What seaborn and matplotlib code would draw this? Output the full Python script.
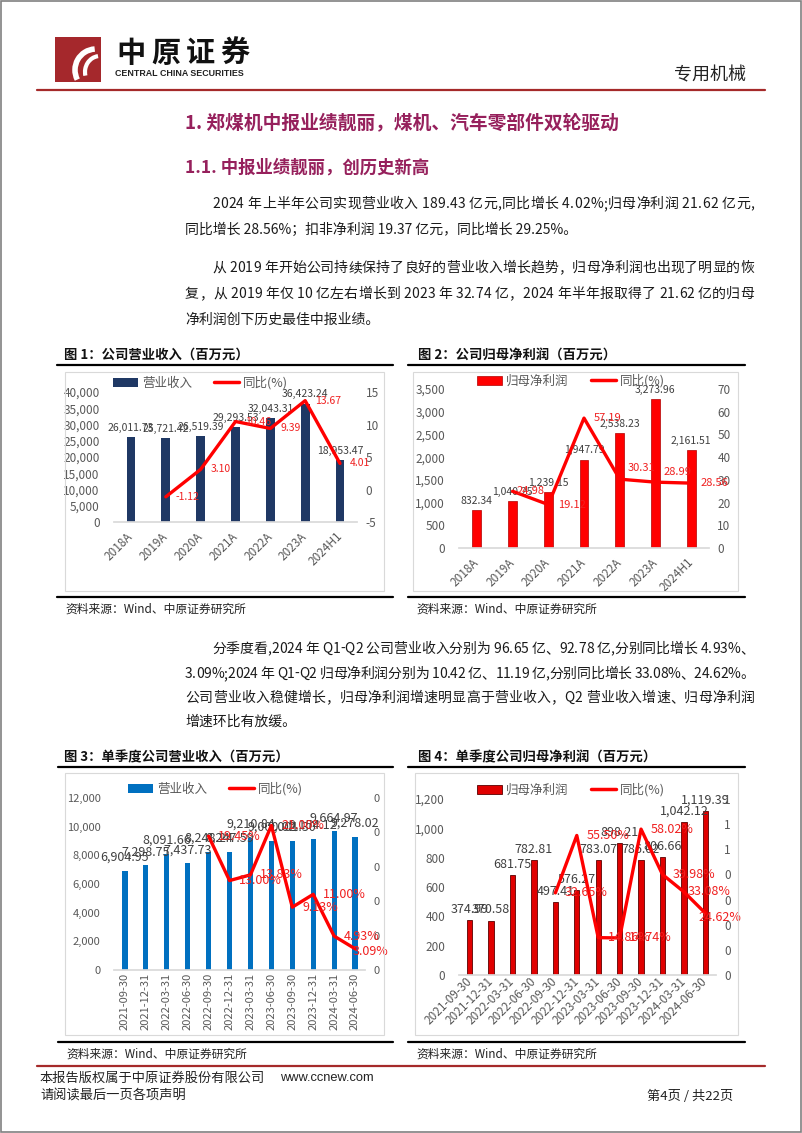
import numpy as np
import pandas as pd
import matplotlib
matplotlib.use("Agg")
import matplotlib.pyplot as plt
import matplotlib.ticker as mticker
from matplotlib.lines import Line2D
from matplotlib.patches import Rectangle, Patch, Arc
from matplotlib.font_manager import FontProperties
import seaborn as sns

W, H = 802, 1133

sns.set_theme(style="white")
plt.rcParams["font.family"] = ["Noto Sans CJK SC", "DejaVu Sans"]
plt.rcParams["axes.unicode_minus"] = False

# -------------------------
# Data
# -------------------------
years = ["2018A", "2019A", "2020A", "2021A", "2022A", "2023A", "2024H1"]
revenue = [26011.73, 25721.42, 26519.39, 29293.53, 32043.31, 36423.24, 18953.47]
revenue_yoy = [np.nan, -1.12, 3.10, 10.46, 9.39, 13.67, 4.01]
profit = [832.34, 1040.25, 1239.15, 1947.79, 2538.23, 3273.96, 2161.51]
profit_yoy = [np.nan, 24.98, 19.12, 57.19, 30.31, 28.99, 28.56]

quarters = ["2021-09-30", "2021-12-31", "2022-03-31", "2022-06-30",
            "2022-09-30", "2022-12-31", "2023-03-31", "2023-06-30",
            "2023-09-30", "2023-12-31", "2024-03-31", "2024-06-30"]
q_revenue = [6904.95, 7298.75, 8091.66, 7437.73, 8248.24, 8247.59,
             9210.84, 9000.02, 9001.30, 9154.12, 9664.97, 9278.02]
q_revenue_yoy = [np.nan, np.nan, np.nan, np.nan, 19.45, 13.00,
                 13.83, 21.00, 9.13, 11.00, 4.93, 3.09]
q_profit = [374.99, 370.58, 681.75, 782.81, 497.41, 576.27,
            783.07, 898.21, 786.02, 806.66, 1042.12, 1119.39]
q_profit_yoy = [np.nan, np.nan, np.nan, np.nan, 32.65, 55.50,
                14.86, 14.74, 58.02, 39.98, 33.08, 24.62]

RED = "#FF0000"
LABEL_RED = "#F02020"
GREY = "#595959"
HEAD = "#96205C"
INK = "#1A1A1A"

fig = plt.figure(figsize=(W / 100, H / 100), dpi=100)
fig.patch.set_facecolor("white")
renderer = fig.canvas.get_renderer()


def fx(x):
    return x / W


def fy(y):
    return 1 - y / H


def hline(x0, x1, y, color, lw):
    fig.add_artist(Line2D([fx(x0), fx(x1)], [fy(y), fy(y)],
                          transform=fig.transFigure, color=color, lw=lw))


def text(x, y, s, **kw):
    kw.setdefault("va", "center")
    fig.text(fx(x), fy(y), s, **kw)


def box(x0, y0, x1, y1, **kw):
    fig.add_artist(Rectangle((fx(x0), fy(y1)), fx(x1) - fx(x0), fy(y0) - fy(y1),
                             transform=fig.transFigure, **kw))


def body_line(x0, y, s, x1=None, size=10):
    # plain line, or spread over x0..x1 like justified Chinese text
    if x1 is None:
        text(x0, y, s, fontsize=size, color=INK)
        return
    prop = FontProperties(family=["Noto Sans CJK SC", "DejaVu Sans"], size=size)

    def wid(t):
        return renderer.get_text_width_height_descent(t, prop, ismath=False)[0]

    extra = (x1 - x0) - wid(s)
    n = len(s)
    for k, ch in enumerate(s):
        if ch == " ":
            continue
        left = wid(s[:k + 1]) - wid(ch)
        text(x0 + left + extra * k / (n - 1), y, ch, fontsize=size, color=INK)


def combo(rect, cats, bars, yoy, name, color, edge, lw_edge,
          left_max, left_step, right_min, right_max, right_step, right_fmt,
          yoy_div, yoy_fmt, rot, xpad, bar_pad, bar_size, yoy_size, tick_size,
          legend_xy, special=None):
    x0, y0, x1, y1 = rect
    ax = fig.add_axes([fx(x0), fy(y1), fx(x1) - fx(x0), fy(y0) - fy(y1)])
    df = pd.DataFrame({"cat": cats, "value": bars})
    sns.barplot(data=df, x="cat", y="value", color=color, width=0.25,
                saturation=1, edgecolor=edge, linewidth=lw_edge,
                errorbar=None, ax=ax)
    n = len(cats)
    ax.set_xlim(-0.5, n - 0.5)
    ax.set_ylim(0, left_max)
    ax.set_yticks(np.arange(0, left_max + 1, left_step))
    ax.yaxis.set_major_formatter(mticker.StrMethodFormatter("{x:,.0f}"))
    ax.set_xlabel("")
    ax.set_ylabel("")
    for s in ["top", "left", "right"]:
        ax.spines[s].set_visible(False)
    ax.spines["bottom"].set_color("#D9D9D9")
    ax.tick_params(axis="y", length=0, labelsize=tick_size, colors=GREY, pad=10)
    ax.tick_params(axis="x", length=0, labelsize=tick_size, colors=GREY, pad=xpad)
    ax.set_xticks(range(n))
    if rot == 90:
        ax.set_xticklabels(cats, rotation=90, ha="center", va="top")
    else:
        ax.set_xticklabels(cats, rotation=45, ha="right", va="center",
                           rotation_mode="anchor")
    ax.bar_label(ax.containers[0], labels=[f"{v:,.2f}" for v in bars],
                 padding=bar_pad, fontsize=bar_size, color="#404040")
    ax.set_facecolor("none")

    ax2 = ax.twinx()
    line_y = np.array(yoy) / yoy_div
    sns.lineplot(x=np.arange(n), y=line_y, color=RED, lw=2.4, ax=ax2)
    ax2.set_xlim(-0.5, n - 0.5)
    ax2.set_ylim(right_min, right_max)
    ax2.set_yticks(np.arange(right_min, right_max + right_step / 2, right_step))
    ax2.yaxis.set_major_formatter(mticker.FuncFormatter(right_fmt))
    ax2.tick_params(axis="y", length=0, labelsize=tick_size, colors=GREY, pad=6)
    ax2.set_ylabel("")
    for s in ax2.spines.values():
        s.set_visible(False)
    special = special or {}
    for i, v in enumerate(yoy):
        if np.isnan(v):
            continue
        dx, dy = special.get(i, (7, 0))
        ax2.annotate(yoy_fmt.format(v), (i, v / yoy_div), xytext=(dx, dy),
                     textcoords="offset points", ha="left", va="center",
                     fontsize=yoy_size, color=LABEL_RED)

    handles = [Patch(facecolor=color, edgecolor=edge, linewidth=lw_edge),
               Line2D([], [], color=RED, lw=2.5)]
    fig.legend(handles, [name, "同比(%)"], loc="center left",
               bbox_to_anchor=(fx(legend_xy[0]), fy(legend_xy[1])),
               bbox_transform=fig.transFigure, ncol=2, frameon=False,
               fontsize=9, handlelength=2.0, handleheight=0.7,
               handletextpad=0.3, columnspacing=1.8, borderpad=0,
               borderaxespad=0, labelcolor=GREY)
    return ax, ax2


def int_fmt(v, pos):
    return f"{v:.0f}"


def excel_round(v, pos):
    return str(int(np.floor(v + 0.5 + 1e-9)))


# -------------------------
# Page frame / header
# -------------------------
box(0.5, 0.5, W - 1, H - 1, fill=False, edgecolor="#808080", lw=1.2)

box(55, 37, 101, 82, facecolor="#A5282C", edgecolor="none")
fig.add_artist(Arc((fx(96), fy(70)), fx(70) - fx(28), (fy(28) - fy(70)),
                   theta1=95, theta2=200, transform=fig.transFigure,
                   color="white", lw=4))
fig.add_artist(Arc((fx(100), fy(72)), fx(40) - fx(10), (fy(20) - fy(52)),
                   theta1=100, theta2=190, transform=fig.transFigure,
                   color="white", lw=3))
for i, ch in enumerate("中原证券"):
    text(131 + i * 34.5, 53, ch, fontsize=21, weight="heavy", ha="center",
         color="#111111")
text(115, 74, "CENTRAL CHINA SECURITIES", fontsize=6.4, weight="bold",
     family="Liberation Sans", color="#222222")
text(674, 75, "专用机械", fontsize=13, color="#222222")
hline(37, 765, 90, "#A52A2A", 1.6)

text(185, 124, "1. 郑煤机中报业绩靓丽，煤机、汽车零部件双轮驱动",
     fontsize=13.5, weight="bold", color=HEAD)
text(185, 168, "1.1. 中报业绩靓丽，创历史新高",
     fontsize=12.5, weight="bold", color=HEAD)

R = 754
body_line(212, 204, "2024 年上半年公司实现营业收入 189.43 亿元,同比增长 4.02%;归母净利润 21.62 亿元,", R)
body_line(185, 230, "同比增长 28.56%；扣非净利润 19.37 亿元，同比增长 29.25%。")
body_line(212, 268, "从 2019 年开始公司持续保持了良好的营业收入增长趋势，归母净利润也出现了明显的恢", R)
body_line(185, 294, "复，从 2019 年仅 10 亿左右增长到 2023 年 32.74 亿，2024 年半年报取得了 21.62 亿的归母", R)
body_line(185, 320, "净利润创下历史最佳中报业绩。")

body_line(212, 649, "分季度看,2024 年 Q1-Q2 公司营业收入分别为 96.65 亿、92.78 亿,分别同比增长 4.93%、", R)
body_line(185, 674, "3.09%;2024 年 Q1-Q2 归母净利润分别为 10.42 亿、11.19 亿,分别同比增长 33.08%、24.62%。", R)
body_line(185, 698, "公司营业收入稳健增长，归母净利润增速明显高于营业收入，Q2 营业收入增速、归母净利润", R)
body_line(185, 722, "增速环比有放缓。")

# -------------------------
# Chart frames
# -------------------------
title_kw = dict(fontsize=9.6, weight="heavy", color="#111111")
src_kw = dict(fontsize=8.5, color="#222222")
for (tx, ty, title, lx0, lx1, bx0, bx1, by0, by1, bot) in [
    (64, 355, "图 1：公司营业收入（百万元）", 57, 393, 65, 384, 372, 591, 597),
    (418, 355, "图 2：公司归母净利润（百万元）", 408, 745, 413, 738, 372, 591, 597),
    (64, 757, "图 3：单季度公司营业收入（百万元）", 58, 393, 65, 384, 773, 1035, 1042),
    (418, 757, "图 4：单季度公司归母净利润（百万元）", 408, 745, 415, 738, 773, 1035, 1042),
]:
    text(tx, ty, title, **title_kw)
    hline(lx0, lx1, ty + 10, "black", 1.6)
    box(bx0, by0, bx1, by1, fill=False, edgecolor="#D9D9D9", lw=0.8)
    hline(lx0, lx1, bot, "black", 1.6)
    text(lx0 + 8, bot + 12, "资料来源：Wind、中原证券研究所", **src_kw)

# -------------------------
# Charts
# -------------------------
combo((113.6, 392, 357.4, 522), years, revenue, revenue_yoy, "营业收入",
      "#1F3864", "#1F3864", 0, 40000, 5000, -5, 15, 5, int_fmt,
      1, "{:.2f}", 45, 9, 3, 7.5, 7.5, 8.5, (113, 383))

combo((459, 389, 709, 548), years, profit, profit_yoy, "归母净利润",
      RED, "#B00000", 0.5, 3500, 500, 0, 70, 10, int_fmt,
      1, "{:.2f}", 45, 9, 3, 7.5, 8, 8.5, (477, 381),
      special={1: (3, 0), 4: (6, 8), 5: (6, 7)})

combo((114.5, 798, 365.5, 970), quarters, q_revenue, q_revenue_yoy, "营业收入",
      "#0070C0", "#0070C0", 0, 12000, 2000, 0, 0.25, 0.05, excel_round,
      100, "{:.2f}%", 90, 2, 5, 9, 9, 8, (128, 789),
      special={11: (-2, -2)})

combo((459, 799, 716, 975), quarters, q_profit, q_profit_yoy, "归母净利润",
      "#E00000", "#5A0000", 0.6, 1200, 200, 0, 0.7, 0.1, excel_round,
      100, "{:.2f}%", 45, 3, 3, 9, 9, 8.5, (477, 790),
      special={10: (3, 0), 11: (-5, -3)})

# -------------------------
# Footer
# -------------------------
hline(37, 765, 1066, "#A52A2A", 1.6)
foot = dict(fontsize=9.5, color="#222222")
text(40, 1078, "本报告版权属于中原证券股份有限公司", **foot)
text(280, 1078, "www.ccnew.com", fontsize=9.3, family="Liberation Sans",
     color="#222222")
text(40, 1096, "请阅读最后一页各项声明", **foot)
text(647, 1096, "第4页 / 共22页", **foot)

fig.savefig("out.png", dpi=100)
